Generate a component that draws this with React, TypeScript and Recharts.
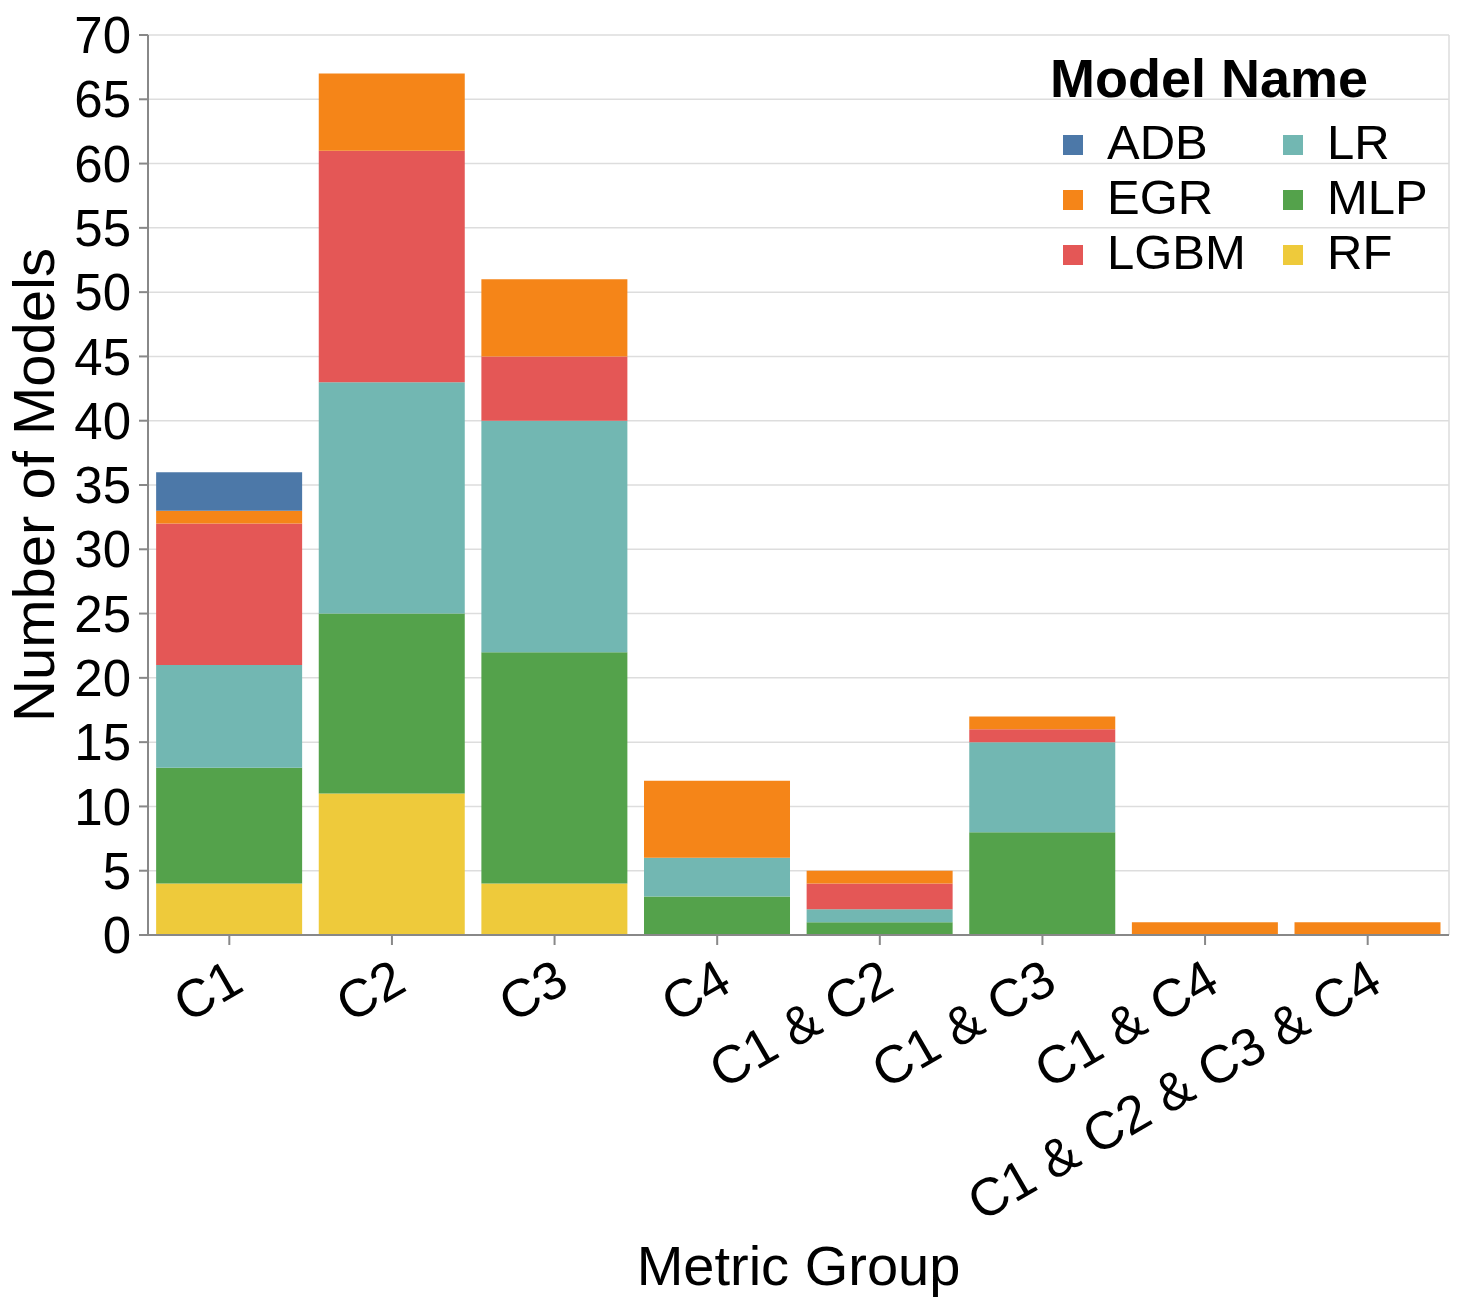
import {
  Bar,
  BarChart,
  CartesianGrid,
  Label,
  Legend,
  XAxis,
  YAxis,
} from "recharts";

const FONT = "'Liberation Sans', Arial, Helvetica, sans-serif";

// metric groups on the x axis
const groups = ["C1", "C2", "C3", "C4", "C1 & C2", "C1 & C3", "C1 & C4", "C1 & C2 & C3 & C4"];

// number of models per group, one array per model (stacked bottom -> top: RF, MLP, LR, LGBM, EGR, ADB)
const rf = [4, 11, 4, 0, 0, 0, 0, 0];
const mlp = [9, 14, 18, 3, 1, 8, 0, 0];
const lr = [8, 18, 18, 3, 1, 7, 0, 0];
const lgbm = [11, 18, 5, 0, 2, 1, 0, 0];
const egr = [1, 6, 6, 6, 1, 1, 1, 1];
const adb = [3, 0, 0, 0, 0, 0, 0, 0];

const yTicks = [0, 5, 10, 15, 20, 25, 30, 35, 40, 45, 50, 55, 60, 65, 70];

const models = ["ADB", "EGR", "LGBM", "LR", "MLP", "RF"];
const colors: Record<string, string> = {
  ADB: "#4c78a8",
  EGR: "#f58518",
  LGBM: "#e45756",
  LR: "#72b7b2",
  MLP: "#54a24b",
  RF: "#eeca3b",
};
const stackOrder = ["RF", "MLP", "LR", "LGBM", "EGR", "ADB"];

const data = groups.map((group, i) => ({
  group,
  RF: rf[i],
  MLP: mlp[i],
  LR: lr[i],
  LGBM: lgbm[i],
  EGR: egr[i],
  ADB: adb[i],
}));

const AngledTick = ({ x, y, payload }: any) => (
  <g transform={`translate(${x - 2},${y + 10}) rotate(-30)`}>
    <text x={0} y={0} dy="0.71em" textAnchor="end" fontSize={53} fill="#000" fontFamily={FONT}>
      {payload.value}
    </text>
  </g>
);

const YTitle = ({ viewBox }: any) => {
  const cx = viewBox.x + 33;
  const cy = viewBox.y + viewBox.height / 2;
  return (
    <text
      x={cx}
      y={cy}
      dy="0.355em"
      transform={`rotate(-90, ${cx}, ${cy})`}
      textAnchor="middle"
      fontSize={58}
      fill="#000"
      fontFamily={FONT}
    >
      Number of Models
    </text>
  );
};

// two columns, filled top to bottom
const ModelLegend = () => (
  <svg width={420} height={250} style={{ display: "block" }}>
    <text x={10} y={57} fontSize={54} fontWeight="bold" fill="#000" fontFamily={FONT}>
      Model Name
    </text>
    {models.map((m, i) => {
      const col = Math.floor(i / 3);
      const row = i % 3;
      const sx = 23 + col * 220;
      const cy = 105 + row * 55;
      return (
        <g key={m}>
          <rect x={sx} y={cy - 10} width={20} height={20} fill={colors[m]} />
          <text x={sx + 44} y={cy + 14} fontSize={49} fill="#000" fontFamily={FONT}>
            {m}
          </text>
        </g>
      );
    })}
  </svg>
);

const App = () => {
  return (
    <div style={{ position: "absolute", left: 0, top: 0, background: "#fff" }}>
      <BarChart
        width={1466}
        height={1308}
        data={data}
        margin={{ top: 35, right: 17, left: 0, bottom: 0 }}
        barCategoryGap="5%"
      >
        <CartesianGrid
          stroke="#dddddd"
          strokeWidth={1.5}
          verticalCoordinatesGenerator={({ offset }: any) => [offset.left, offset.left + offset.width]}
        />
        <XAxis
          dataKey="group"
          interval={0}
          height={373}
          tickSize={10}
          tick={<AngledTick />}
          axisLine={{ stroke: "#888", strokeWidth: 2 }}
          tickLine={{ stroke: "#888", strokeWidth: 2 }}
        >
          <Label
            value="Metric Group"
            position="insideBottom"
            offset={23}
            fontSize={56}
            fill="#000"
            fontFamily={FONT}
          />
        </XAxis>
        <YAxis
          width={148}
          domain={[0, 70]}
          ticks={yTicks}
          interval={0}
          tickSize={9}
          tickMargin={8}
          tick={{ fontSize: 51, fill: "#000", fontFamily: FONT }}
          axisLine={{ stroke: "#888", strokeWidth: 2 }}
          tickLine={{ stroke: "#888", strokeWidth: 2 }}
          label={<YTitle />}
        />
        <Legend
          layout="horizontal"
          verticalAlign="middle"
          align="center"
          wrapperStyle={{ left: 1040, top: 40, width: 420, height: 250 }}
          content={<ModelLegend />}
        />
        {stackOrder.map((m) => (
          <Bar key={m} dataKey={m} stackId="a" fill={colors[m]} isAnimationActive={false} />
        ))}
      </BarChart>
    </div>
  );
};

export default App;
